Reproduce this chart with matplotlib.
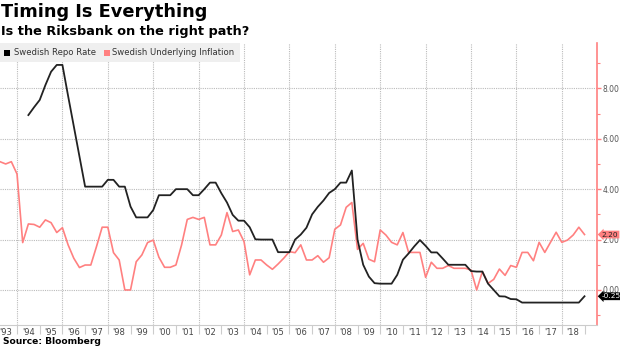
import matplotlib
matplotlib.use("Agg")
import matplotlib.pyplot as plt
from matplotlib.patches import Rectangle
import numpy as np

# quarterly readings, year fractions
infl_start = 1993.25
inflation = [
    5.09, 5.0, 5.09,
    4.6, 1.88, 2.62, 2.6,
    2.49, 2.78, 2.67, 2.28,
    2.47, 1.79, 1.26, 0.89,
    0.99, 0.99, 1.72, 2.49,
    2.49, 1.48, 1.19, 0.0,
    0.0, 1.12, 1.39, 1.88,
    1.98, 1.3, 0.9, 0.9,
    0.99, 1.79, 2.8, 2.88,
    2.8, 2.88, 1.79, 1.79,
    2.18, 3.07, 2.32, 2.38,
    1.92, 0.6, 1.19, 1.19,
    0.99, 0.82, 1.03, 1.26,
    1.52, 1.48, 1.79, 1.19,
    1.19, 1.36, 1.1, 1.28,
    2.41, 2.58, 3.28, 3.47,
    1.61, 1.85, 1.22, 1.12,
    2.38, 2.18, 1.89, 1.79,
    2.28, 1.49, 1.49, 1.49,
    0.5, 1.1, 0.86, 0.86,
    0.97, 0.86, 0.86, 0.86,
    0.79, 0.0, 0.73, 0.26,
    0.42, 0.83, 0.58, 0.97,
    0.9, 1.49, 1.49, 1.16,
    1.89, 1.49, 1.89, 2.29,
    1.89, 1.98, 2.18, 2.49,
    2.2,
]

repo_start = 1994.5
repo_rate = [
    6.94, 7.25, 7.54, 8.13, 8.66, 8.93,
    8.93, 7.7, 6.5, 5.3,
    4.1, 4.1, 4.1, 4.1,
    4.37, 4.37, 4.1, 4.1,
    3.31, 2.88, 2.88, 2.88,
    3.17, 3.76, 3.76, 3.76,
    4.0, 4.0, 4.0, 3.76,
    3.76, 4.0, 4.26, 4.26,
    3.84, 3.47, 2.98, 2.75,
    2.75, 2.49, 2.01, 2.0,
    2.0, 2.0, 1.5, 1.5,
    1.5, 2.0, 2.2, 2.47,
    3.0, 3.3, 3.55, 3.85,
    4.0, 4.26, 4.26, 4.74,
    2.0, 1.0, 0.53, 0.27,
    0.25, 0.25, 0.25, 0.6,
    1.2, 1.45, 1.73, 1.98,
    1.75, 1.49, 1.49, 1.25,
    1.0, 1.0, 1.0, 1.0,
    0.75, 0.73, 0.73, 0.25,
    0.0, -0.25, -0.26, -0.36,
    -0.37, -0.5, -0.5, -0.5,
    -0.5, -0.5, -0.5, -0.5,
    -0.5, -0.5, -0.5, -0.5,
    -0.25,
]

years = list(range(1993, 2019))
year_labels = ["'" + str(y)[2:] for y in years]

black = "#222222"
pink = "#ff8080"
grid_c = "#bbbbbb"

infl_t = infl_start + 0.25 * np.arange(len(inflation))
repo_t = repo_start + 0.25 * np.arange(len(repo_rate))

W, H = 620, 348
fig = plt.figure(figsize=(W / 100, H / 100), dpi=100)
ax = fig.add_axes([0, 1 - 325 / H, 597 / W, (325 - 43) / H])

ax.set_xlim(1993.25, 2019.55)
ax.set_ylim(-1.39, 9.8)

# grid
for y in range(1994, 2019, 2):
    ax.axvline(y, color=grid_c, lw=0.8, ls=(0, (1, 1)), zorder=0)
for v in range(0, 9, 2):
    ax.axhline(v, color=grid_c, lw=0.8, ls=(0, (1, 1)), zorder=0)

ax.plot(infl_t, inflation, color=pink, lw=1.2, zorder=3)
ax.plot(repo_t, repo_rate, color=black, lw=1.3, zorder=4)

# spines
for s in ["left", "top"]:
    ax.spines[s].set_visible(False)
ax.spines["right"].set_color(pink)
ax.spines["right"].set_linewidth(1.2)
ax.spines["bottom"].set_color("#cccccc")
ax.spines["bottom"].set_linewidth(0.8)

# x axis: year separators + labels centred in each year
ax.set_xticks(range(1994, 2020))
ax.set_xticklabels([])
ax.set_xticks([y + 0.5 for y in years], minor=True)
ax.set_xticklabels(year_labels, minor=True)
ax.tick_params(axis="x", which="major", length=6.5, color="#cccccc", width=0.8)
ax.tick_params(axis="x", which="minor", length=0, pad=2.5, labelsize=6, labelcolor="#444444")

# y axis on the right
ax.yaxis.tick_right()
ax.set_yticks(range(0, 9, 2))
ax.set_yticklabels([f"{v:.2f}" for v in range(0, 9, 2)])
ax.set_yticks(range(-1, 10, 2), minor=True)
ax.tick_params(axis="y", which="major", length=3, color=pink, width=1, pad=1,
               labelsize=5.5, labelcolor="#555555")
ax.tick_params(axis="y", which="minor", length=2, color=pink, width=0.8)

# last value tags
ax.annotate(f"{inflation[-1]:.2f}", xy=(1.0, inflation[-1]), xycoords=("axes fraction", "data"),
            xytext=(3.5, 0), textcoords="offset points", ha="left", va="center",
            fontsize=5.3, color="#222222", annotation_clip=False, zorder=6,
            bbox=dict(boxstyle="larrow,pad=0.12", fc=pink, ec="none"))
ax.annotate(f"{repo_rate[-1]:.2f}", xy=(1.0, repo_rate[-1]), xycoords=("axes fraction", "data"),
            xytext=(3.5, 0), textcoords="offset points", ha="left", va="center",
            fontsize=5.3, color="white", annotation_clip=False, zorder=6,
            bbox=dict(boxstyle="larrow,pad=0.12", fc="black", ec="none"))

# titles
fig.text(1 / W, 1 - 12 / H, "Timing Is Everything", fontsize=12.8, fontweight="bold",
         va="center", ha="left", color="black")
fig.text(1 / W, 1 - 31 / H, "Is the Riksbank on the right path?", fontsize=9.3,
         fontweight="bold", va="center", ha="left", color="black")
fig.text(3 / W, 1 - 342 / H, "Source: Bloomberg", fontsize=6.6, fontweight="bold",
         va="center", ha="left", color="black")

# legend strip
fig.patches.append(Rectangle((0, 1 - 62 / H), 240 / W, 19 / H, transform=fig.transFigure,
                             fc="#efefef", ec="none", zorder=5))
fig.patches.append(Rectangle((4 / W, 1 - 56 / H), 6 / W, 6 / H, transform=fig.transFigure,
                             fc="black", ec="none", zorder=6))
fig.text(14 / W, 1 - 52.5 / H, "Swedish Repo Rate", fontsize=6.1, color="#333333",
         va="center", ha="left", zorder=7)
fig.patches.append(Rectangle((104 / W, 1 - 56 / H), 6 / W, 6 / H, transform=fig.transFigure,
                             fc=pink, ec="none", zorder=6))
fig.text(112 / W, 1 - 52.5 / H, "Swedish Underlying Inflation", fontsize=6.1, color="#333333",
         va="center", ha="left", zorder=7)

fig.savefig("out.png", dpi=100)
